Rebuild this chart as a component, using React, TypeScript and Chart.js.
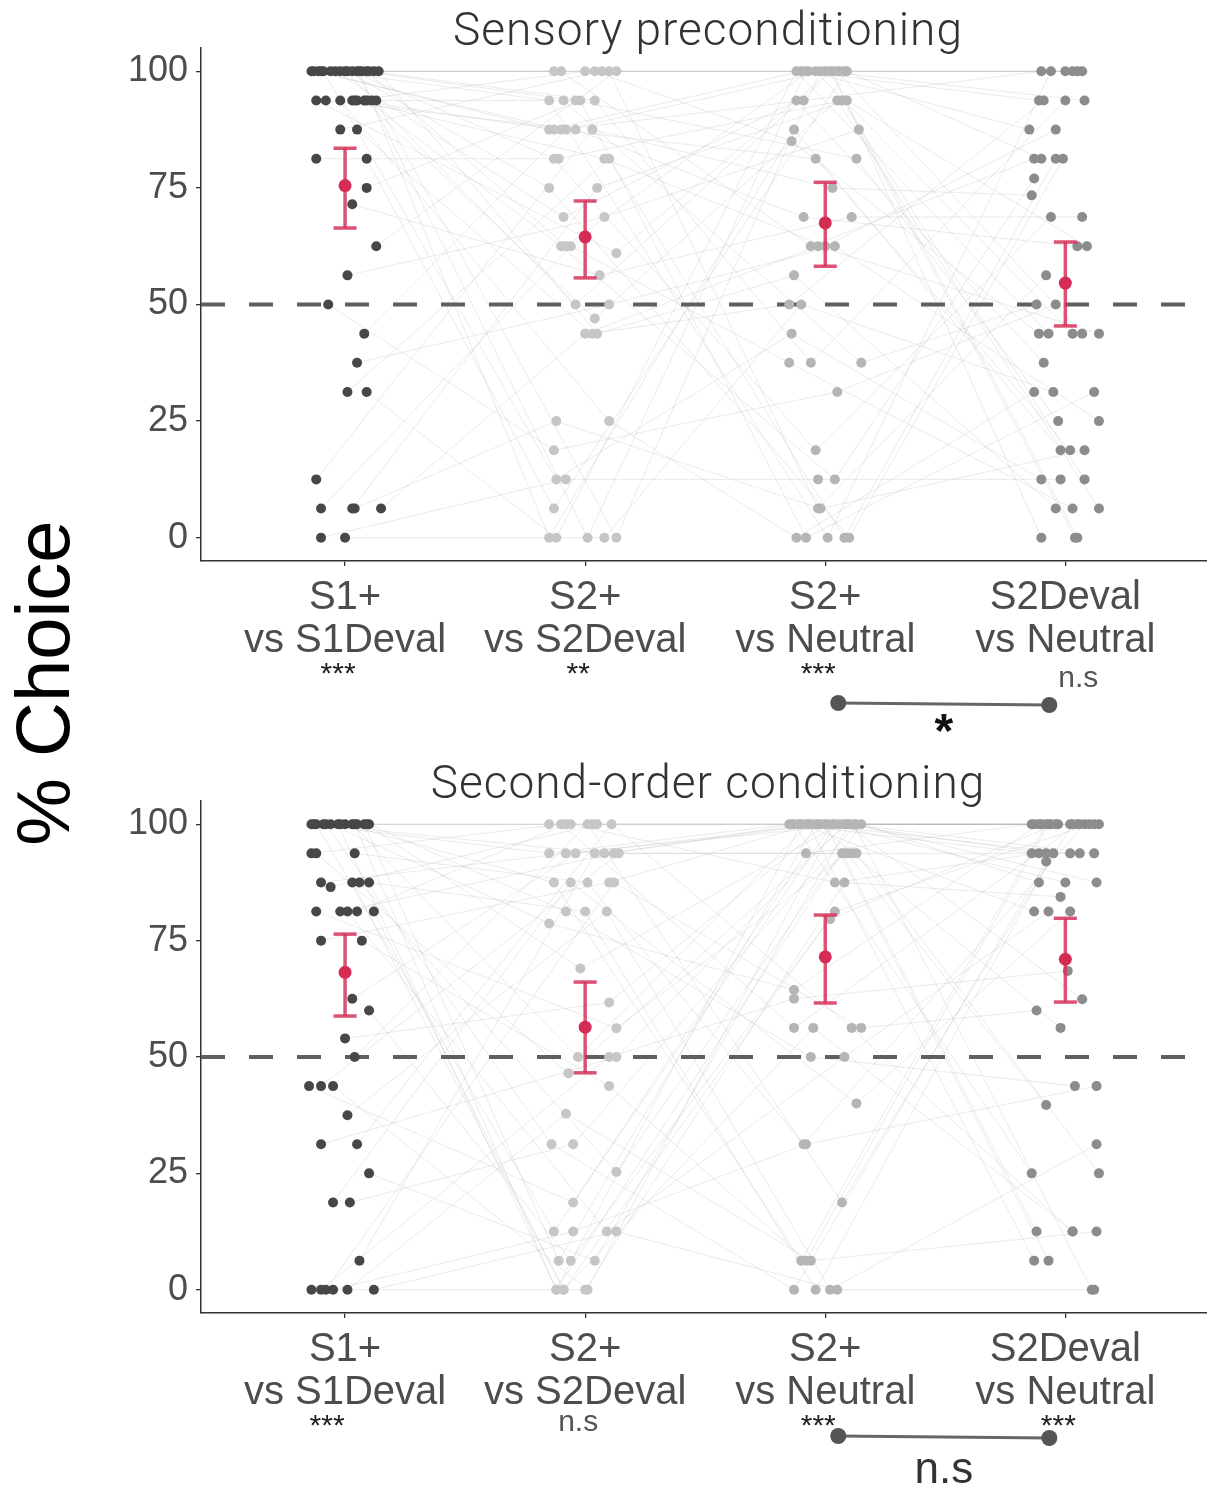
import React, { useEffect, useRef } from "react";
import { Chart, registerables } from "chart.js";

Chart.register(...registerables);

// ---------- shared labels ----------
const categoryLabels: string[][] = [
  ["S1+", "vs S1Deval"],
  ["S2+", "vs S2Deval"],
  ["S2+", "vs Neutral"],
  ["S2Deval", "vs Neutral"],
];
const yTickValues = [0, 25, 50, 75, 100];
const chanceLevel = 50;
const yAxisTitle = "% Choice";

// ---------- Sensory preconditioning (per-subject % choice, jitter in category units) ----------
const spVals1 = [100,100,100,100,100,100,100,100,100,100,100,100,100,100,100,100,100,100,93.75,93.75,93.75,93.75,93.75,93.75,93.75,93.75,93.75,93.75,87.5,87.5,81.25,81.25,75,71.5,62.5,56.25,50,43.75,37.5,31.25,31.25,12.5,6.25,6.25,6.25,6.25,0,0];
const spJit1 = [-.14,-.11,-.09,-.06,-.04,-.02,0,.03,.05,.07,.09,.12,.14,-.13,-.10,.01,.06,.10,-.12,-.08,-.02,.03,.05,.08,.11,.13,.04,.09,-.02,.05,-.12,.09,.09,.03,.13,.01,-.07,.08,.05,.01,.09,-.12,-.10,.03,.04,.15,-.10,0];
const spVals2 = [100,87.5,12.5,93.75,68.75,100,50,81.25,0,93.75,62.5,100,43.75,87.5,100,75,0,93.75,61,87.5,25,100,81.25,47,93.75,0,87.5,62.5,100,43.75,81.25,6.25,93.75,56.25,100,68.75,18.75,87.5,50,81.25,0,87.5,62.5,75,25,43.75,12.5,0];
const spJit2 = [.04,-.15,-.12,-.15,-.09,-.10,-.04,-.13,.01,-.04,-.08,.10,.05,-.10,-.13,-.15,-.15,.04,.13,-.04,.10,0,.08,.04,-.09,.13,-.13,-.10,.07,.03,-.11,-.13,-.02,.06,.13,.08,-.13,-.08,.10,.10,-.12,.03,-.06,.05,-.12,0,-.08,.08];
const spVals3 = [85,100,43.75,0,93.75,62.5,100,18.75,100,81.25,100,6.25,56.25,93.75,100,0,87.5,37.5,100,68.75,0,100,62.5,93.75,37.5,100,81.25,12.5,100,50,93.75,100,0,68.75,100,87.5,31.25,100,62.5,0,100,75,37.5,93.75,6.25,62.5,12.5,50];
const spJit3 = [-.14,-.10,-.14,.01,-.12,-.06,.03,-.04,-.08,.13,-.07,-.03,-.13,-.09,-.04,.10,-.13,-.06,.02,-.09,-.12,.06,0,.05,.15,-.02,-.04,.04,.05,-.15,.07,.09,-.08,.11,.08,.14,.05,0,.04,.08,-.12,.03,-.15,.09,-.02,-.03,-.03,-.10];
const spVals4 = [43.75,93.75,12.5,100,37.5,81.25,0,68.75,100,25,87.5,56.25,6.25,100,43.75,81.25,18.75,93.75,0,62.5,31.25,100,87.5,6.25,50,100,18.75,77,43.75,93.75,12.5,81.25,31.25,68.75,100,0,50,93.75,25,81.25,43.75,73.4,6.25,62.5,18.75,43.75,12.5,31.25];
const spJit4 = [-.11,-.11,-.10,-.06,-.09,-.13,-.10,-.06,.03,-.03,-.15,-.08,-.04,-.10,.03,-.01,-.02,0,.05,.05,-.13,.05,-.04,.14,-.12,0,.02,-.13,.07,-.09,.08,-.10,.12,.07,.07,.04,-.04,.08,.14,-.04,-.07,-.14,.03,.09,.08,.14,-.02,-.05];
const spMean = [75.5, 64.5, 67.5, 54.6];
const spLow = [66.4, 55.7, 58.2, 45.4];
const spHigh = [83.5, 72.2, 76.2, 63.4];
const spSig = ["***", "**", "***", "n.s"];
const spPair = [3, 4];
const spPairSig = "*";

// ---------- Second-order conditioning ----------
const sbVals1 = [100,100,100,100,100,100,100,100,100,100,100,100,100,100,100,93.75,93.75,93.75,87.5,87.5,87.5,87.5,86.5,81.25,81.25,81.25,81.25,81.25,75,75,62.5,60,54,50,43.75,43.75,43.75,37.5,31.25,31.25,25,18.75,18.75,6.25,0,0,0,0,0,0];
const sbJit1 = [-.14,-.12,-.09,-.06,-.03,0,.03,.05,.08,.10,-.13,-.08,-.02,.04,.09,-.14,-.12,.04,-.10,.03,.06,.10,-.06,-.12,-.02,.01,.05,.12,-.10,.07,.03,.10,0,.04,-.15,-.10,-.05,.01,-.10,.05,.10,-.05,.02,.06,-.14,-.10,-.08,-.05,.01,.12];
const sbVals2 = [93.75,12.5,100,78.7,0,87.5,50,100,6.25,81.25,93.75,31.25,100,0,69,100,46.5,87.5,93.75,0,25.3,81.25,100,56.2,93.75,12.5,100,0,87.5,43.75,93.75,6.25,61.7,100,18.75,93.75,0,81.25,50,100,6.25,87.5,31.25,93.75,0,50,87.5,12.5,37.8,12.5];
const sbJit2 = [-.15,-.13,-.15,-.15,-.12,-.13,-.03,-.06,-.11,-.08,.08,-.14,.03,-.12,-.02,-.10,-.07,.01,-.08,-.09,.13,0,.05,.13,.12,.09,-.08,-.09,.10,.10,-.04,-.06,.10,.01,-.05,.14,.01,.09,.13,.11,.04,-.06,-.05,.04,0,.10,.12,-.05,-.08,.13];
const sbVals3 = [100,93.75,100,64.4,100,6.25,100,87.5,100,50,100,0,100,93.75,100,56.25,100,31.25,100,81.25,100,0,100,93.75,100,50,100,56.25,100,6.25,100,79.6,100,18.75,100,93.75,100,0,100,56.25,100,40,100,93.75,87.5,62.5,56.25,31.25,6.25,0];
const sbJit3 = [-.15,-.08,-.13,-.13,-.10,-.10,-.07,.04,-.04,-.06,-.02,-.13,.01,.07,.06,-.13,.09,-.09,.12,.04,.15,-.04,-.14,.09,-.11,.08,-.08,-.05,-.06,-.08,-.03,.02,0,.07,.03,.11,.04,.02,.08,.11,.10,.13,.13,.13,.08,-.13,.15,-.08,-.06,.05];
const sbVals4 = [93.75,100,25,100,81.25,100,6.25,93.75,100,43.75,100,92,100,12.5,93.75,100,62.4,100,0,100,87.5,93.75,100,39.7,100,81.25,100,12.5,93.75,100,56.25,100,6.25,100,87.5,93.75,100,31.25,100,12.5,93.75,81.25,87.5,25,84.4,68.5,60,43.75,12.5,0];
const sbJit4 = [-.14,-.14,-.14,-.11,-.13,-.08,-.13,-.11,-.06,.04,-.03,-.08,.02,-.12,-.08,.05,.07,.08,.11,.10,-.11,-.05,.14,-.08,-.13,-.07,-.10,.03,.02,-.07,-.02,-.04,-.07,.03,0,.06,.06,.13,.12,.03,.12,.02,.13,.14,-.02,.01,-.12,.13,.13,.12];
const sbMean = [68.2, 56.4, 71.5, 71.0];
const sbLow = [58.8, 46.6, 61.6, 61.8];
const sbHigh = [76.4, 66.1, 80.5, 79.8];
const sbSig = ["***", "n.s", "***", "***"];
const sbPair = [3, 4];
const sbPairSig = "n.s";

// ---------- styling ----------
const W = 1207;
const FONT = "'Liberation Sans', Arial, Helvetica, sans-serif";
const TITLE_FONT = "Roboto, 'Open Sans', Lato, sans-serif";
const X_MIN = 0.4;
const X_MAX = 4.59;
const CAP_HALF = 0.048;
const pointColors = ["#474747", "#c6c6c6", "#b5b5b5", "#8c8c8c"];
const meanColor = "#d42c55";
const barColor = "rgba(214, 52, 90, 0.85)";
const subjectLineColor = "rgba(175, 175, 175, 0.25)";

type PanelCfg = {
  top: number;
  height: number;
  padTop: number;
  xHeight: number;
  vals: number[][];
  jits: number[][];
  mean: number[];
  low: number[];
  high: number[];
  sig: string[];
  sigDx: number[];
  starDy: number;
  nsDy: number;
  pair: number[];
  pairDx: number[];
  pairDy: number[];
  pairSig: string;
  pairSigDy: number;
  pairSigFont: string;
  pairSigColor: string;
};

function drawCentered(ctx: CanvasRenderingContext2D, text: string, cx: number, cy: number) {
  ctx.textAlign = "center";
  ctx.textBaseline = "alphabetic";
  const m = ctx.measureText(text);
  const asc = m.actualBoundingBoxAscent;
  const desc = m.actualBoundingBoxDescent;
  ctx.fillText(text, cx, cy + (asc - desc) / 2);
}

function Panel({ cfg }: { cfg: PanelCfg }) {
  const ref = useRef<HTMLCanvasElement | null>(null);
  useEffect(() => {
    const canvas = ref.current;
    if (!canvas) return;
    const datasets: any[] = [];
    // means
    datasets.push({
      data: cfg.mean.map((m, i) => ({ x: i + 1, y: m })),
      pointRadius: 6.5,
      pointBackgroundColor: meanColor,
      pointBorderWidth: 0,
      order: 0,
    });
    // error bars
    cfg.mean.forEach((_, i) => {
      const c = i + 1;
      const segs = [
        [{ x: c, y: cfg.low[i] }, { x: c, y: cfg.high[i] }],
        [{ x: c - CAP_HALF, y: cfg.high[i] }, { x: c + CAP_HALF, y: cfg.high[i] }],
        [{ x: c - CAP_HALF, y: cfg.low[i] }, { x: c + CAP_HALF, y: cfg.low[i] }],
      ];
      segs.forEach((d) =>
        datasets.push({
          data: d,
          showLine: true,
          borderColor: barColor,
          borderWidth: 3.5,
          pointRadius: 0,
          order: 1,
        })
      );
    });
    // individual points
    cfg.vals.forEach((vals, i) => {
      datasets.push({
        data: vals.map((v, k) => ({ x: i + 1 + cfg.jits[i][k], y: v })),
        pointRadius: 5,
        pointBackgroundColor: pointColors[i],
        pointBorderWidth: 0,
        order: 2,
      });
    });
    // chance line
    datasets.push({
      data: [
        { x: X_MIN, y: chanceLevel },
        { x: X_MAX, y: chanceLevel },
      ],
      showLine: true,
      borderColor: "#5f5f5f",
      borderWidth: 4,
      borderDash: [24, 24],
      pointRadius: 0,
      order: 3,
    });
    // subject lines
    const n = cfg.vals[0].length;
    for (let k = 0; k < n; k++) {
      datasets.push({
        data: cfg.vals.map((vals, i) => ({ x: i + 1 + cfg.jits[i][k], y: vals[k] })),
        showLine: true,
        borderColor: subjectLineColor,
        borderWidth: 1,
        pointRadius: 0,
        order: 4,
      });
    }

    const annot = {
      id: "annot",
      afterDraw(chart: any) {
        const ctx: CanvasRenderingContext2D = chart.ctx;
        const xs = chart.scales.x;
        const bottom = chart.chartArea.bottom;
        ctx.save();
        cfg.sig.forEach((t, i) => {
          const cx = xs.getPixelForValue(i + 1) + cfg.sigDx[i];
          ctx.font = `30px ${FONT}`;
          if (t === "n.s") {
            ctx.fillStyle = "#555555";
            drawCentered(ctx, t, cx, bottom + cfg.nsDy);
          } else {
            ctx.fillStyle = "#222222";
            drawCentered(ctx, t, cx, bottom + cfg.starDy);
          }
        });
        const x1 = xs.getPixelForValue(cfg.pair[0]) + cfg.pairDx[0];
        const x2 = xs.getPixelForValue(cfg.pair[1]) + cfg.pairDx[1];
        const y1 = bottom + cfg.pairDy[0];
        const y2 = bottom + cfg.pairDy[1];
        ctx.strokeStyle = "#666666";
        ctx.lineWidth = 3;
        ctx.beginPath();
        ctx.moveTo(x1, y1);
        ctx.lineTo(x2, y2);
        ctx.stroke();
        ctx.fillStyle = "#555555";
        [[x1, y1], [x2, y2]].forEach(([px, py]) => {
          ctx.beginPath();
          ctx.arc(px, py, 8, 0, Math.PI * 2);
          ctx.fill();
        });
        ctx.font = cfg.pairSigFont;
        ctx.fillStyle = cfg.pairSigColor;
        drawCentered(ctx, cfg.pairSig, (x1 + x2) / 2, bottom + cfg.pairSigDy);
        ctx.restore();
      },
    };

    const chart = new Chart(canvas, {
      type: "scatter",
      data: { datasets },
      options: {
        responsive: false,
        animation: false,
        devicePixelRatio: 1,
        events: [],
        layout: { autoPadding: false, padding: { top: cfg.padTop, left: 0, right: 0, bottom: 0 } },
        plugins: { legend: { display: false }, tooltip: { enabled: false }, title: { display: false } },
        scales: {
          x: {
            type: "linear",
            min: X_MIN,
            max: X_MAX,
            afterBuildTicks: (ax: any) => {
              ax.ticks = categoryLabels.map((_, i) => ({ value: i + 1 }));
            },
            afterFit: (s: any) => {
              s.height = cfg.xHeight;
            },
            ticks: {
              autoSkip: false,
              maxRotation: 0,
              minRotation: 0,
              padding: 10,
              color: "#4d4d4d",
              font: { family: FONT, size: 40, lineHeight: 1.08 },
              callback: (v: any) => categoryLabels[Math.round(Number(v)) - 1] ?? "",
            },
            grid: { drawOnChartArea: false, drawTicks: true, tickLength: 5, color: "#333333", lineWidth: 1.3 },
            border: { display: true, color: "#333333", width: 1.5 },
          },
          y: {
            type: "linear",
            min: -5,
            max: 105,
            afterBuildTicks: (ax: any) => {
              ax.ticks = yTickValues.map((v) => ({ value: v }));
            },
            afterFit: (s: any) => {
              s.width = 201;
            },
            ticks: {
              padding: 8,
              color: "#4d4d4d",
              font: { family: FONT, size: 36 },
            },
            grid: { drawOnChartArea: false, drawTicks: true, tickLength: 5, color: "#333333", lineWidth: 1.3 },
            border: { display: true, color: "#333333", width: 1.5 },
          },
        },
      },
      plugins: [annot],
    } as any);
    return () => chart.destroy();
  }, [cfg]);
  return (
    <canvas
      ref={ref}
      width={W}
      height={cfg.height}
      style={{ position: "absolute", left: 0, top: cfg.top, width: W, height: cfg.height }}
    />
  );
}

const topCfg: PanelCfg = {
  top: 0,
  height: 760,
  padTop: 48,
  xHeight: 199,
  vals: [spVals1, spVals2, spVals3, spVals4],
  jits: [spJit1, spJit2, spJit3, spJit4],
  mean: spMean,
  low: spLow,
  high: spHigh,
  sig: spSig,
  sigDx: [-7, -7, -7, 13],
  starDy: 107,
  nsDy: 118,
  pair: spPair,
  pairDx: [13, -16],
  pairDy: [142, 144],
  pairSig: spPairSig,
  pairSigDy: 162,
  pairSigFont: `bold 48px ${FONT}`,
  pairSigColor: "#111111",
};

const bottomCfg: PanelCfg = {
  top: 760,
  height: 734,
  padTop: 41,
  xHeight: 181,
  vals: [sbVals1, sbVals2, sbVals3, sbVals4],
  jits: [sbJit1, sbJit2, sbJit3, sbJit4],
  mean: sbMean,
  low: sbLow,
  high: sbHigh,
  sig: sbSig,
  sigDx: [-18, -7, -7, -7],
  starDy: 107,
  nsDy: 110,
  pair: sbPair,
  pairDx: [13, -16],
  pairDy: [123, 125],
  pairSig: sbPairSig,
  pairSigDy: 158,
  pairSigFont: `44px ${FONT}`,
  pairSigColor: "#333333",
};

const titleStyle = (top: number): React.CSSProperties => ({
  position: "absolute",
  left: 708 - 400,
  width: 800,
  top,
  textAlign: "center",
  fontFamily: TITLE_FONT,
  fontWeight: 300,
  fontSize: 46,
  letterSpacing: "1px",
  lineHeight: "46px",
  color: "#333333",
  whiteSpace: "nowrap",
});

export default function App() {
  return (
    <div
      style={{
        position: "absolute",
        left: 0,
        top: 0,
        width: W,
        height: 1494,
        background: "#ffffff",
        overflow: "hidden",
      }}
    >
      <Panel cfg={topCfg} />
      <Panel cfg={bottomCfg} />
      <div style={titleStyle(6)}>Sensory preconditioning</div>
      <div style={titleStyle(759)}>Second-order conditioning</div>
      <div
        style={{
          position: "absolute",
          left: 43 - 200,
          top: 683 - 38,
          width: 400,
          height: 76,
          lineHeight: "76px",
          fontSize: 76,
          fontFamily: FONT,
          color: "#000000",
          textAlign: "center",
          transform: "rotate(-90deg)",
          whiteSpace: "nowrap",
        }}
      >
        {yAxisTitle}
      </div>
    </div>
  );
}
